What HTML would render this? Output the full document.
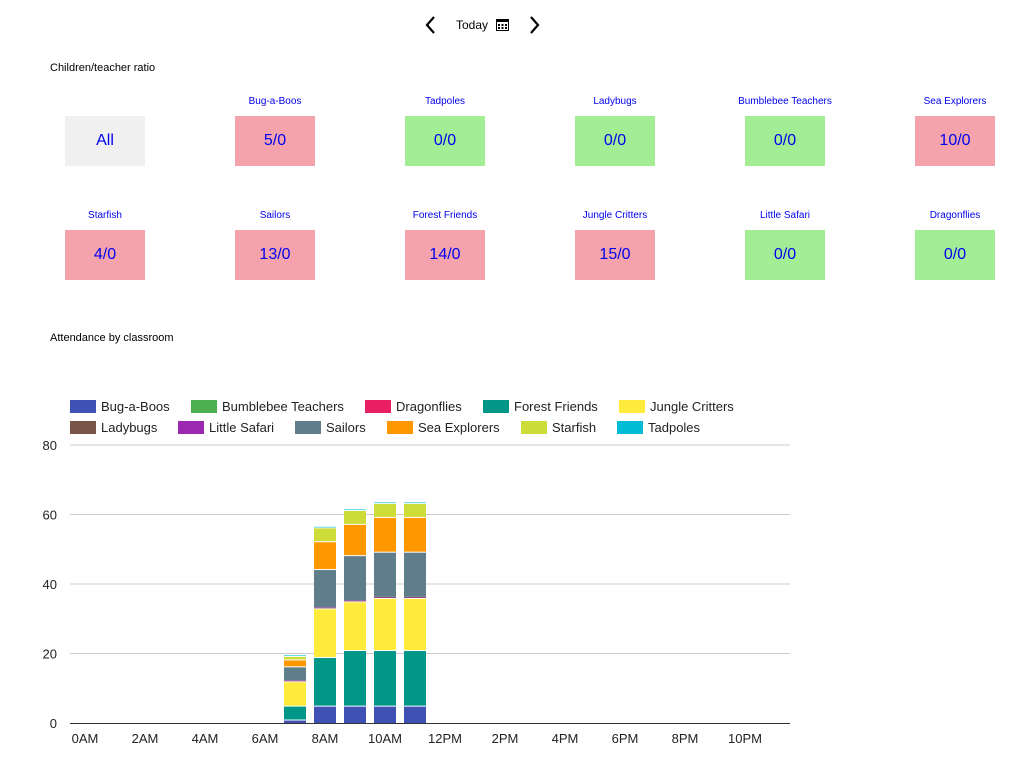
<!DOCTYPE html>
<html><head><meta charset="utf-8"><style>
body{margin:0;width:1016px;height:764px;background:#fff;font-family:"Liberation Sans",sans-serif;position:relative;overflow:hidden}
.abs{position:absolute}
.tile{position:absolute;width:80px;height:50px;line-height:50px;text-align:center;color:#0000ee;font-size:16px}
.lbl{position:absolute;width:140px;text-align:center;color:#0000ee;font-size:10px}
</style></head><body>
<div class="abs" style="left:424px;top:14px;font-size:22px">
<svg width="12" height="22"><path d="M10 3 L3 11 L10 19" stroke="#000" stroke-width="2.2" fill="none"/></svg></div>
<div class="abs" style="left:456px;top:18px;font-size:12px">Today</div>
<div class="abs" style="left:496px;top:18px"><svg width="13" height="12"><rect x="0.5" y="0.5" width="12" height="11" fill="#fff" stroke="#000"/><rect x="0" y="0" width="13" height="3" fill="#000"/><g fill="#000"><rect x="2" y="5" width="2" height="2"/><rect x="5.5" y="5" width="2" height="2"/><rect x="9" y="5" width="2" height="2"/><rect x="2" y="8" width="2" height="2"/><rect x="5.5" y="8" width="2" height="2"/><rect x="9" y="8" width="2" height="2"/></g></svg></div>
<div class="abs" style="left:529px;top:14px"><svg width="12" height="22"><path d="M2 3 L9 11 L2 19" stroke="#000" stroke-width="2.2" fill="none"/></svg></div>
<div class="abs" style="left:50px;top:62px;font-size:11px">Children/teacher ratio</div>
<div id="tiles"></div>
<div class="abs" style="left:50px;top:332px;font-size:11px">Attendance by classroom</div>
<svg id="chart" class="abs" style="left:0;top:0" width="1016" height="764"></svg>
<script>
const tileNames=["All","Bug-a-Boos","Tadpoles","Ladybugs","Bumblebee Teachers","Sea Explorers","Starfish","Sailors","Forest Friends","Jungle Critters","Little Safari","Dragonflies"];
const tileVals=["All","5/0","0/0","0/0","0/0","10/0","4/0","13/0","14/0","15/0","0/0","0/0"];
const T=document.getElementById('tiles');
tileNames.forEach((n,i)=>{
  const c=i%6,r=Math.floor(i/6),x=65+c*170,y=116+r*114;
  const t=document.createElement('div');t.className='tile';
  
  
  const v=tileVals[i];
  t.style.left=x+'px';t.style.top=y+'px';
  t.style.background=v==='All'?'#f0f0f0':(v.startsWith('0/')?'#a3ee95':'#f4a3ad');
  t.textContent=v;T.appendChild(t);
  if(i>0){const l=document.createElement('div');l.className='lbl';
    
    
    l.style.left=(x-30)+'px';l.style.top=(y-20)+'px';l.textContent=n;T.appendChild(l);}
});
const series=["Bug-a-Boos","Bumblebee Teachers","Dragonflies","Forest Friends","Jungle Critters","Ladybugs","Little Safari","Sailors","Sea Explorers","Starfish","Tadpoles"];
const colors=["#3f51b5","#4caf50","#e91e63","#009688","#ffeb3b","#795548","#9c27b0","#607d8b","#ff9800","#cddc39","#00bcd4"];
const hours=[7,8,9,10,11];
const vBug=[1,5,5,5,5];
const vBumble=[0,0,0,0,0];
const vDragon=[0,0,0,0,0];
const vForest=[4,14,16,16,16];
const vJungle=[7,14,14,15,15];
const vLady=[0.15,0.15,0.15,0.15,0.15];
const vLittle=[0.15,0.15,0.15,0.15,0.15];
const vSailors=[4,11,13,13,13];
const vSea=[2,8,9,10,10];
const vStar=[1,4,4,4,4];
const vTad=[0.15,0.15,0.15,0.15,0.15];
const yTicks=[0,20,40,60,80];
const xTicks=["0AM","2AM","4AM","6AM","8AM","10AM","12PM","2PM","4PM","6PM","8PM","10PM"];
const vals=[vBug,vBumble,vDragon,vForest,vJungle,vLady,vLittle,vSailors,vSea,vStar,vTad];
const S=document.getElementById('chart'),NS='http://www.w3.org/2000/svg';
const y=v=>723-v*(278/80), x=h=>85+h*30;
function el(t,a,p){const e=document.createElementNS(NS,t);for(const k in a)e.setAttribute(k,a[k]);(p||S).appendChild(e);return e;}
yTicks.forEach(t=>{
  if(t){const g=el('line',{x1:70,x2:790,y1:y(t),y2:y(t),stroke:'#ccc','stroke-width':1});
  
  }
  const l=el('text',{x:57,y:y(t)+5,'text-anchor':'end','font-size':13,fill:'#222'});l.textContent=t;
  
  
});
xTicks.forEach((t,i)=>{const l=el('text',{x:x(i*2),y:743,'text-anchor':'middle','font-size':13,fill:'#222'});l.textContent=t;
  
  });
hours.forEach((h,j)=>{let acc=0;vals.forEach((arr,s)=>{const v=arr[j];if(v<=0)return;
  const top=y(acc+v),bot=y(acc);
  const big=v>=0.5;
  const r=el('rect',{x:x(h)-11,width:22,y:top+(big?1:0),height:Math.max(0.6,bot-top-(big?1:0)),fill:colors[s]});
  
  
  acc+=v;});});
const ax=el('line',{x1:70,x2:790,y1:723.5,y2:723.5,stroke:'#333','stroke-width':1});


const legX=[70,191,365,483,619,70,178,295,387,521,617];
series.forEach((n,i)=>{const row=i<5?0:1,ly=400+row*21;
  const g=el('g',{});
  
  
  el('rect',{x:legX[i],y:ly,width:26,height:13,fill:colors[i]},g);
  const t=el('text',{x:legX[i]+31,y:ly+11,'font-size':13,fill:'#222'},g);t.textContent=n;});
</script>
</body></html>
